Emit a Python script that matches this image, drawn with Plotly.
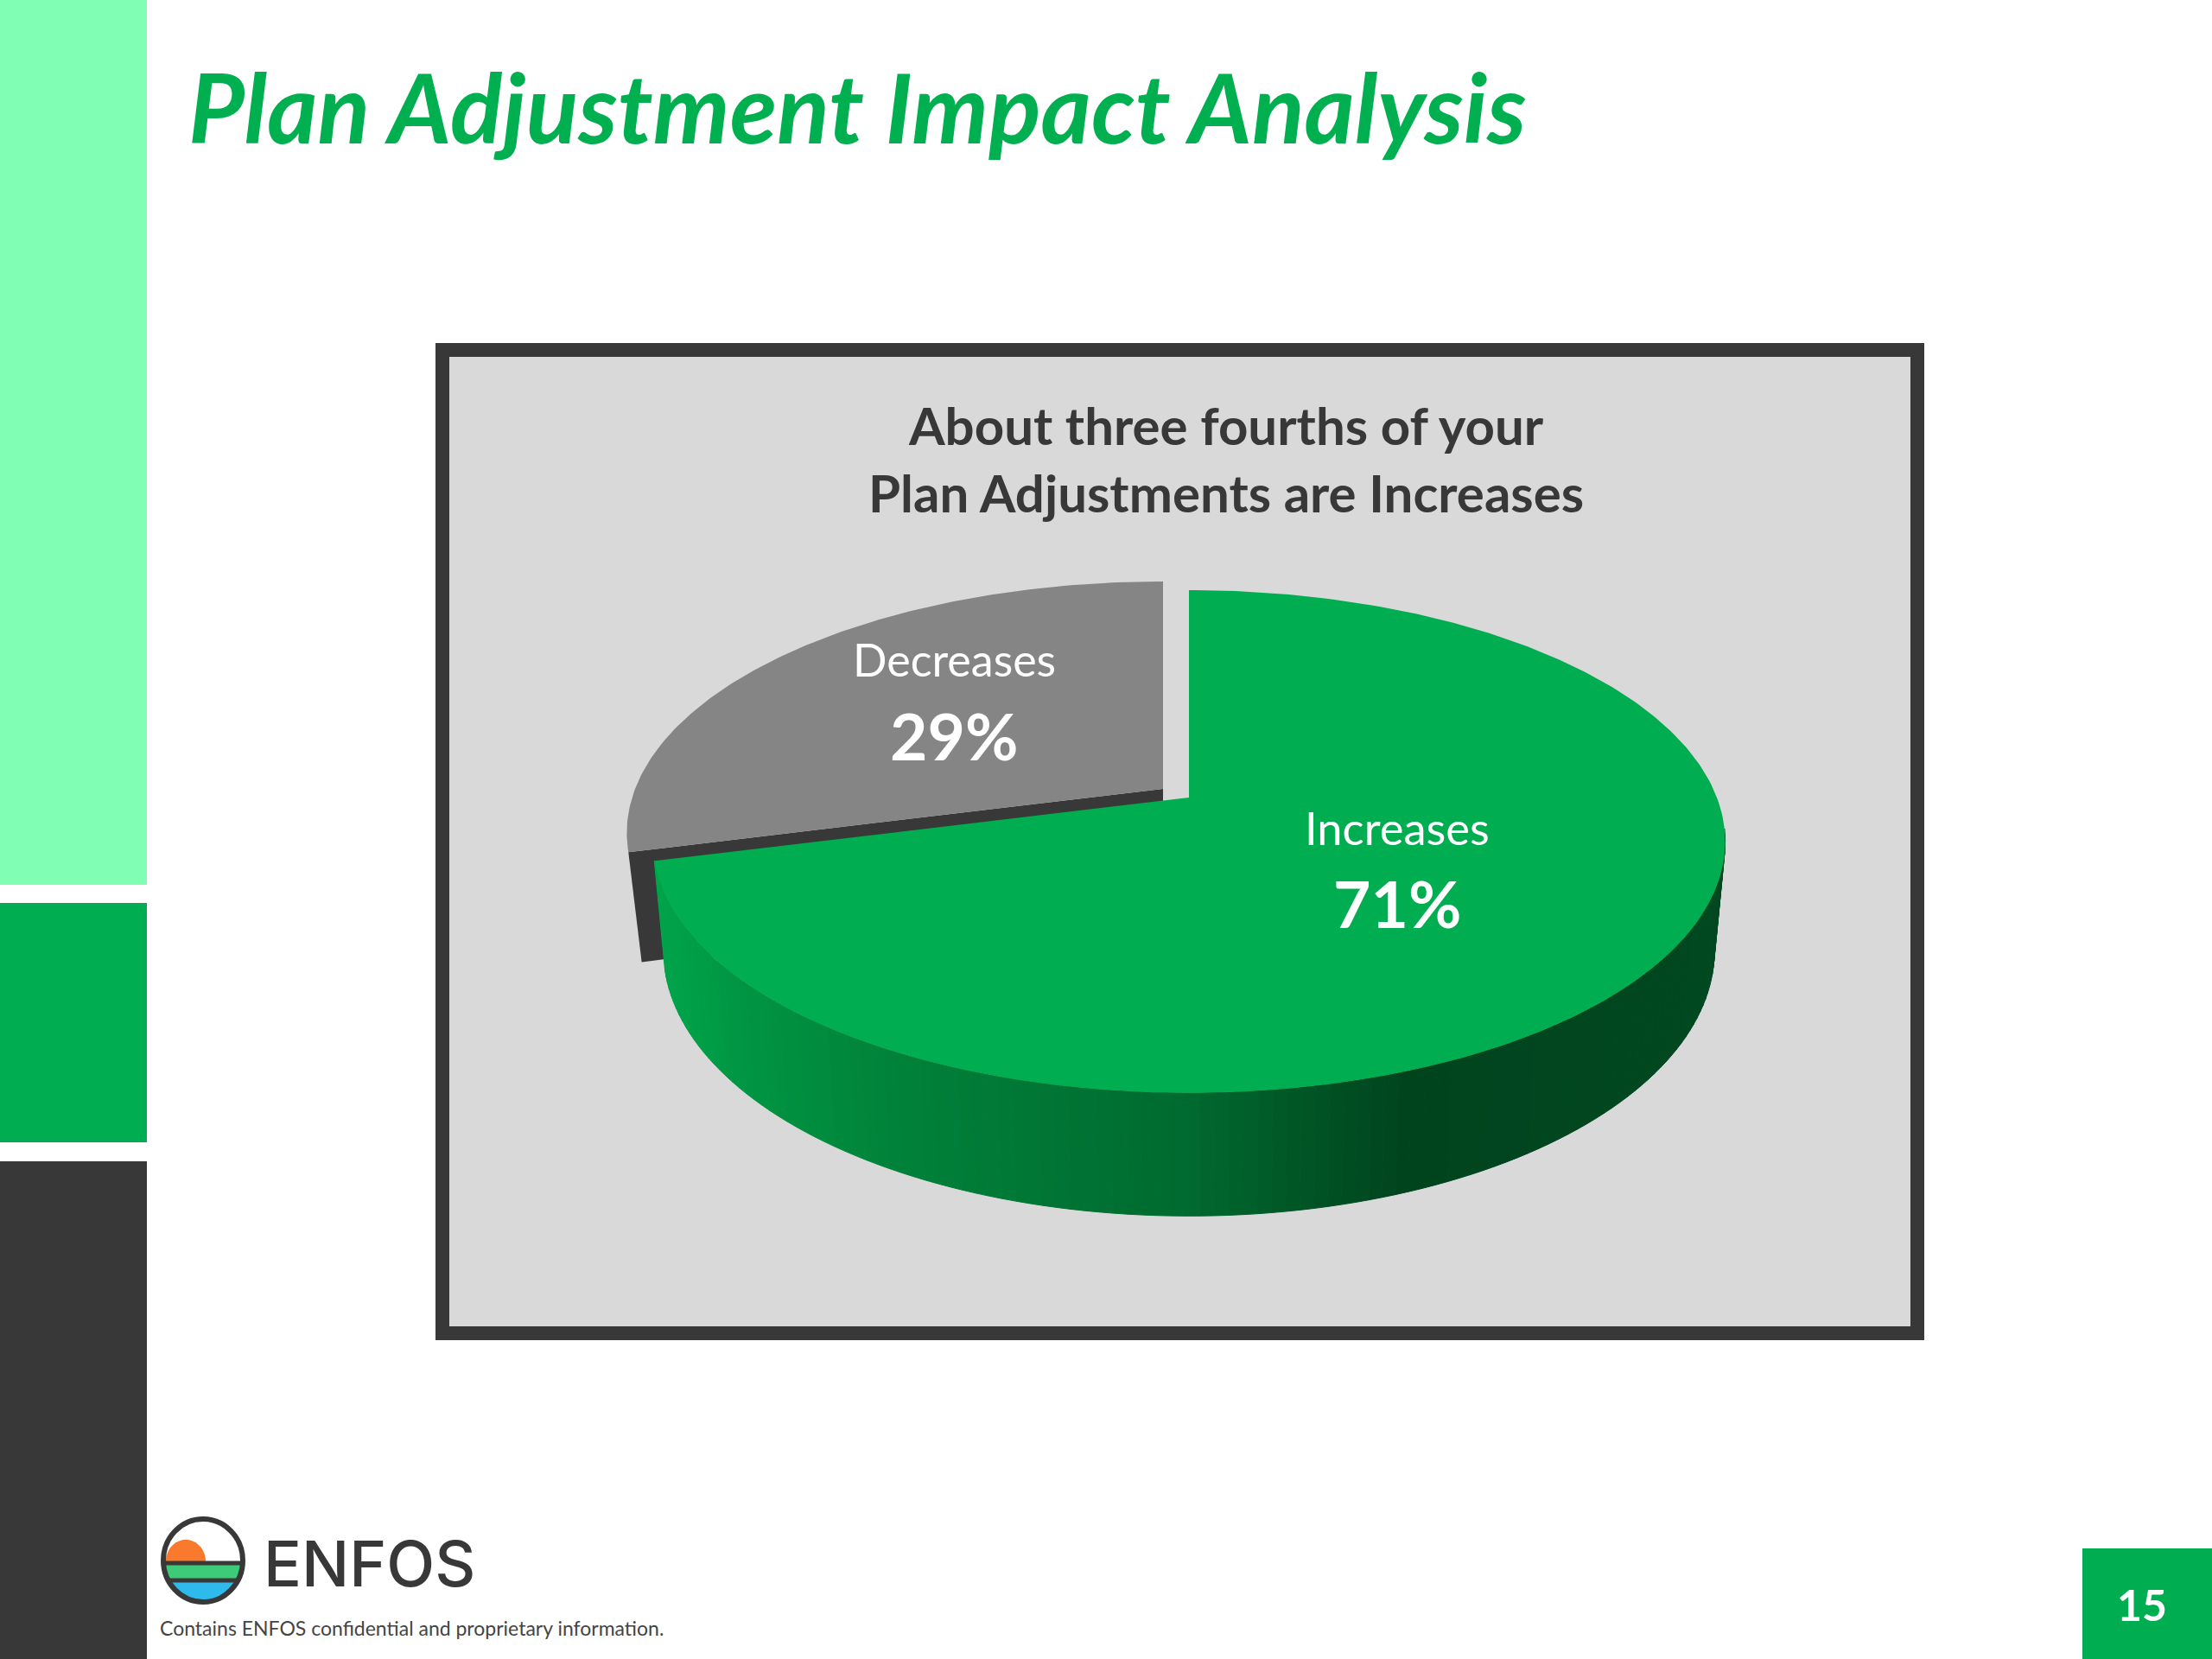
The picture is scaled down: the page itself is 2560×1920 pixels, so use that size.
import math
import plotly.graph_objects as go

# ---- data ----
categories = ["Increases", "Decreases"]
values = [71, 29]
slice_colors = ["#00AD50", "#858585"]
title_text = "Plan Adjustment Impact Analysis"
chart_title_lines = ["About three fourths of your", "Plan Adjustments are Increases"]
footer_text = "Contains ENFOS confidential and proprietary information."
brand_text = "ENFOS"
page_number = "15"

# ---- palette ----
DARK = "#383838"
LIGHT_GREEN = "#80FFB4"
GREEN = "#00AD50"
PANEL = "#D9D9D9"
WALL_STOPS = [(757, (0, 165, 75)), (868, (0, 148, 66)), (1037, (0, 130, 58)),
              (1373, (0, 106, 47)), (1542, (0, 80, 35)), (1626, (0, 68, 30)),
              (2000, (0, 72, 32))]


def wall_color(x):
    for (x0, c0), (x1, c1) in zip(WALL_STOPS, WALL_STOPS[1:]):
        if x <= x1:
            t = max(0.0, (x - x0) / (x1 - x0))
            return "rgb(%d,%d,%d)" % tuple(round(a + (b - a) * t) for a, b in zip(c0, c1))
    return "rgb(%d,%d,%d)" % WALL_STOPS[-1][1]


# ---- tilted pie projection (share of total -> page position) ----
CX, PERSP, RX, RY = 1376, 0.175, 611, 282
TOP_Y, BASE_Y, BASE_SX, BASE_SY = 923, 1046, 0.98, 1.057
GRAY_DX, GRAY_DY = -30, -10
WALL_START = 0.27  # the wall is hidden behind the top before this share


def project(share, base=False, dx=0, dy=0):
    th = 2 * math.pi * share
    X, Y = math.sin(th), math.cos(th)
    den = 1 + PERSP * Y
    sx, sy, y0 = (BASE_SX, BASE_SY, BASE_Y) if base else (1, 1, TOP_Y)
    return CX + sx * RX * X / den + dx, y0 - sy * RY * Y / den + dy


def arc(a, b, n=160, **kw):
    return [project(a + (b - a) * i / n, **kw) for i in range(n + 1)]


def poly(pts, color, lw=0):
    return go.Scatter(x=[p[0] for p in pts] + [pts[0][0]], y=[p[1] for p in pts] + [pts[0][1]],
                      mode="lines", fill="toself", fillcolor=color,
                      line=dict(color=color, width=lw), hoverinfo="skip", showlegend=False)


total = sum(values)
inc_end = values[0] / total
fig = go.Figure()

# gray (exploded) wedge: cut face, then top
g = dict(dx=GRAY_DX, dy=GRAY_DY)
corner_top = project(inc_end, **g)
corner_base = project(inc_end, base=True, dx=GRAY_DX + 3, dy=GRAY_DY)
apex_top = (CX + GRAY_DX, TOP_Y + GRAY_DY)
apex_base = (CX + GRAY_DX, BASE_Y + GRAY_DY)
fig.add_trace(poly([corner_top, apex_top, apex_base, corner_base], DARK))
fig.add_trace(poly([apex_top] + arc(inc_end, 1, **g), slice_colors[1]))

# green side wall, gradient in small strips
N = 120
for i in range(N):
    a = WALL_START + (inc_end - WALL_START) * i / N
    b = WALL_START + (inc_end - WALL_START) * (i + 1) / N
    pts = [project(a), project(b), project(b, base=True), project(a, base=True)]
    xm = sum(p[0] for p in pts) / 4
    fig.add_trace(poly(pts, wall_color(xm), lw=1))

# green top
fig.add_trace(poly([(CX, TOP_Y)] + arc(0, inc_end, n=300), slice_colors[0]))


def circle_chord_band(y0, y1, cx=235, cy=1806, rx=46, ry=48):
    """Path of the part of the logo circle between two heights."""
    pts = []
    n = 24
    for i in range(n + 1):
        y = y0 + (y1 - y0) * i / n
        pts.append((cx + rx * math.sqrt(max(0, 1 - ((y - cy) / ry) ** 2)), y))
    for i in range(n + 1):
        y = y1 + (y0 - y1) * i / n
        pts.append((cx - rx * math.sqrt(max(0, 1 - ((y - cy) / ry) ** 2)), y))
    return "M" + "L".join(f"{x:.1f},{y:.1f}" for x, y in pts) + "Z"


def sun_path(cx=215, base=1807, r=23, top=1782):
    pts = []
    for i in range(31):
        t = math.pi * i / 30
        pts.append((cx - r * math.cos(t), base - (base - top) * math.sin(t)))
    return "M" + "L".join(f"{x:.1f},{y:.1f}" for x, y in pts) + "Z"


def rect(x0, y0, x1, y1, color):
    return dict(type="rect", x0=x0, y0=y0, x1=x1, y1=y1, fillcolor=color,
                line=dict(width=0), layer="below")


shapes = [
    rect(0, 0, 170, 1024, LIGHT_GREEN),
    rect(0, 1045, 170, 1322, GREEN),
    rect(0, 1344, 170, 1920, DARK),
    rect(2410, 1792, 2560, 1920, GREEN),
    dict(type="rect", x0=512, y0=405, x1=2219, y1=1543, fillcolor=PANEL,
         line=dict(color=DARK, width=16), layer="below"),
    # logo
    dict(type="path", path=sun_path(), fillcolor="#F97A2C", line=dict(width=0)),
    dict(type="path", path=circle_chord_band(1811, 1828), fillcolor="#3DCB7A", line=dict(width=0)),
    dict(type="path", path=circle_chord_band(1830, 1854), fillcolor="#2EBBEB", line=dict(width=0)),
    dict(type="line", x0=190, x1=281, y0=1809, y1=1809, line=dict(color=DARK, width=5)),
    dict(type="line", x0=195, x1=275, y0=1829, y1=1829, line=dict(color=DARK, width=5)),
    dict(type="circle", x0=189, x1=281, y0=1758, y1=1854, line=dict(color=DARK, width=6)),
]


def note(text, x, y, size, color, family="Lato", bold=False, italic=False, anchor="center", weight=None):
    return dict(text=f"<b>{text}</b>" if bold else text, x=x, y=y, xref="x", yref="y",
                xanchor=anchor, yanchor="middle", showarrow=False,
                font=dict(family=family, size=size, color=color,
                          style="italic" if italic else "normal",
                          **({"weight": weight} if weight else {})))


annotations = [
    note(title_text, 216, 122, 112, "#00B050", bold=True, italic=True, anchor="left"),
    note(chart_title_lines[0], 1419, 492, 60, DARK, bold=True),
    note(chart_title_lines[1], 1419, 570, 60, DARK, bold=True),
    note(categories[1], 1104, 763, 52, "#FFFFFF"),
    note(f"{values[1]}%", 1104, 851, 75, "#FFFFFF", bold=True),
    note(categories[0], 1617, 957, 52.5, "#FFFFFF"),
    note(f"{values[0]}%", 1617, 1045, 75, "#FFFFFF", bold=True),
    note(brand_text, 303, 1809, 73, DARK, family="Inter", anchor="left", weight=500),
    note(footer_text, 183, 1884, 23, "#444444", anchor="left"),
    note(page_number, 2479, 1857, 50, "#FFFFFF", bold=True),
]

fig.update_layout(
    width=2560, height=1920, margin=dict(l=0, r=0, t=0, b=0),
    paper_bgcolor="#FFFFFF", plot_bgcolor="#FFFFFF", showlegend=False,
    xaxis=dict(range=[0, 2560], visible=False, fixedrange=True),
    yaxis=dict(range=[1920, 0], visible=False, fixedrange=True),
    shapes=shapes, annotations=annotations,
)
fig.write_html("out.html", config={"displayModeBar": False},
               post_script="document.body.style.margin='0';document.body.style.overflow='hidden';")
